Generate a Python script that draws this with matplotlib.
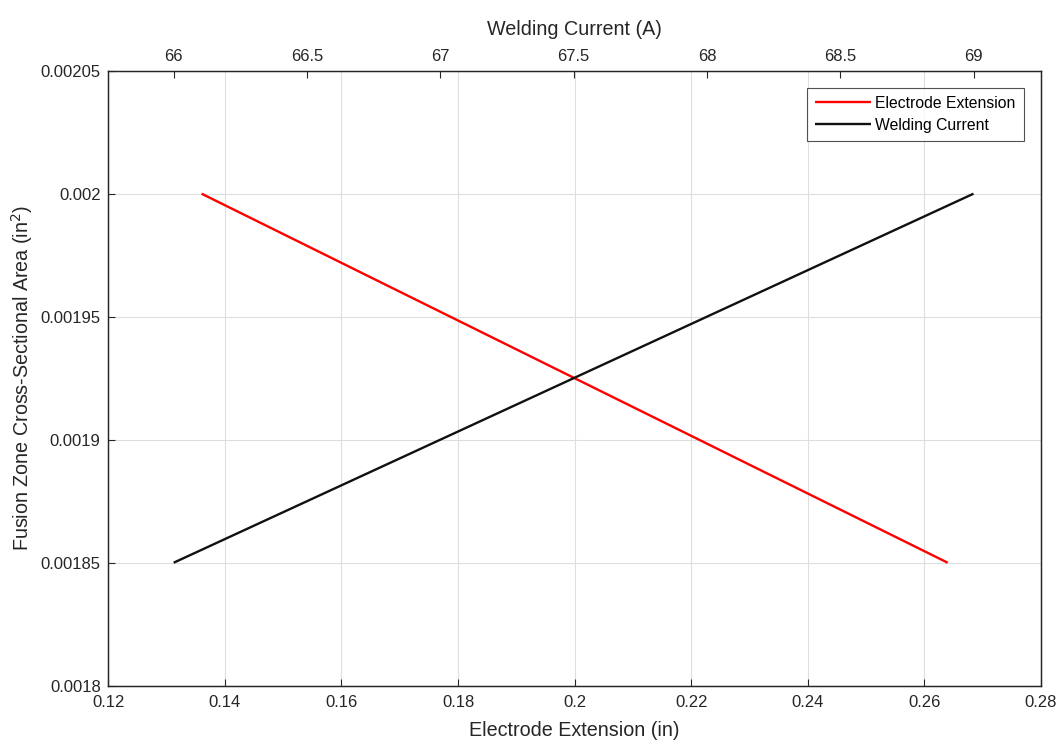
import matplotlib
matplotlib.use("Agg")
import matplotlib.pyplot as plt

plt.rcParams['font.family'] = ['Liberation Sans', 'DejaVu Sans']

# Data
electrode_ext = [0.136, 0.264]          # in
area_ext = [0.00200, 0.00185]           # in^2
welding_current = [66.0, 69.0]          # A
area_cur = [0.00185, 0.00200]           # in^2

x_ticks = [0.12, 0.14, 0.16, 0.18, 0.20, 0.22, 0.24, 0.26, 0.28]
x_tick_labels = ['0.12', '0.14', '0.16', '0.18', '0.2', '0.22', '0.24', '0.26', '0.28']
y_ticks = [0.0018, 0.00185, 0.0019, 0.00195, 0.002, 0.00205]
y_tick_labels = ['0.0018', '0.00185', '0.0019', '0.00195', '0.002', '0.00205']
top_ticks = [66, 66.5, 67, 67.5, 68, 68.5, 69]
top_tick_labels = ['66', '66.5', '67', '67.5', '68', '68.5', '69']

fig = plt.figure(figsize=(10.58, 7.41), dpi=100)
ax = fig.add_axes([0.1024, 0.0746, 0.8815, 0.8300])
axt = ax.twiny()

edge = '#262626'
for a in (ax, axt):
    for s in a.spines.values():
        s.set_color(edge)
        s.set_linewidth(0.9)

l1, = ax.plot(electrode_ext, area_ext, color='#ff0000', lw=1.7, solid_capstyle='butt')
l2, = axt.plot(welding_current, area_cur, color='#111111', lw=1.7, solid_capstyle='butt')

ax.set_xlim(0.12, 0.28)
ax.set_ylim(0.0018, 0.00205)
axt.set_xlim(65.755, 69.253)

ax.set_xticks(x_ticks)
ax.set_xticklabels(x_tick_labels)
ax.set_yticks(y_ticks)
ax.set_yticklabels(y_tick_labels)
axt.set_xticks(top_ticks)
axt.set_xticklabels(top_tick_labels)

ax.grid(True, color='#dedede', lw=0.8)
ax.set_axisbelow(True)

ax.tick_params(axis='x', direction='in', length=5, width=0.8, colors=edge, labelsize=12,
               labelcolor='#262626', top=False, pad=6.5)
ax.tick_params(axis='y', direction='in', length=5, width=0.8, colors=edge, labelsize=12,
               labelcolor='#262626', right=False, pad=5.5)
axt.tick_params(axis='x', direction='in', length=5, width=0.8, colors=edge, labelsize=12,
                labelcolor='#262626', pad=5)

ax.set_xlabel('Electrode Extension (in)', fontsize=14.2, color='#262626', labelpad=7.8)
axt.set_xlabel('Welding Current (A)', fontsize=14.2, color='#262626', labelpad=10)
ax.set_ylabel('Fusion Zone Cross-Sectional Area (in$^2$)', fontsize=14.2, color='#262626', labelpad=4)

leg = axt.legend([l1, l2], ['Electrode Extension', 'Welding Current'], loc='upper right',
                 fontsize=11.3, frameon=True, fancybox=False, borderaxespad=1.1,
                 handlelength=3.55, handletextpad=0.27, borderpad=0.51, labelspacing=0.43)
leg.get_frame().set_edgecolor(edge)
leg.get_frame().set_linewidth(0.8)

fig.savefig('out.png', dpi=100)
